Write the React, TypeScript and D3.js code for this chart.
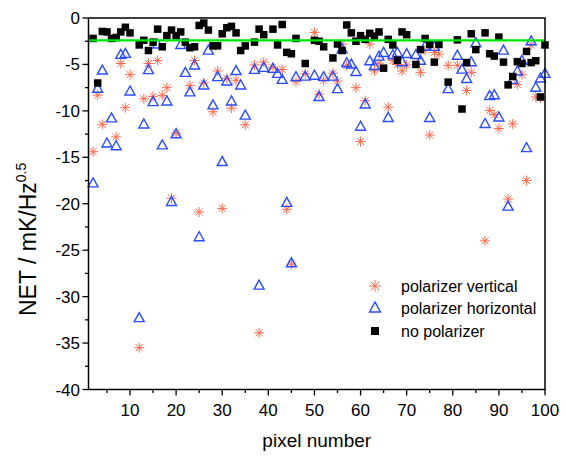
import React from "react";
import * as d3 from "d3";

const pixels: number[] = d3.range(1, 101);

const vertical: (number | null)[] = [
  null, -14.4, -8.3, -11.45, null, null, -12.8, -4.9, -9.66, -6.1,
  null, -35.5, -8.7, -4.9, -8.44, -4.57, -8.33, -7.5, -19.4, -12.4,
  null, null, -7.26, -4.57, -20.9, -7.0, null, -10.1, -5.7, -20.5,
  -6.5, -9.7, -6.7, null, -11.5, null, -5.05, -33.9, -4.75, null,
  -5.3, null, -5.55, -20.6, -26.5, -6.85, null, -6.0, null, -1.55,
  -8.2, -6.7, null, -5.95, -6.8, -2.8, -5.1, null, -7.5, -13.3,
  -8.9, -2.8, -5.7, -4.86, null, -9.6, -4.57, -5.0, -5.7, -5.05,
  null, null, -5.85, -3.5, -12.6, -3.7, -3.9, null, -5.1, null,
  -5.1, null, -7.8, -5.85, null, null, -24.0, -9.95, -10.4, -11.9,
  null, -19.5, -11.4, -7.15, -6.1, -17.5, -2.9, -8.5, -8.6, null,
];

const horizontal: (number | null)[] = [
  null, -17.8, -7.6, -5.65, -13.5, -10.8, -13.8, -3.96, -3.85, -7.9,
  null, -32.3, -11.45, -5.6, -9.05, -2.85, -13.7, -8.98, -19.8, -12.5,
  -2.9, -5.9, -8.0, -5.1, -23.6, -7.26, -3.5, -9.4, -6.36, -15.5,
  -6.83, -8.98, -5.7, -7.26, -10.5, null, -5.57, -28.8, -5.36, null,
  -5.47, -6.0, -6.65, -19.9, -26.4, -6.36, null, -6.3, null, -6.2,
  -8.5, -6.36, null, -6.3, -7.65, -3.35, -4.86, -5.0, -5.8, -11.7,
  -9.3, -4.65, -5.15, -4.15, -3.75, -10.75, -4.0, -3.75, -4.75, -3.87,
  null, -3.97, -4.6, -3.05, -10.75, -3.1, null, null, -7.65, null,
  -4.05, -5.55, -6.55, -4.75, -2.7, null, -11.4, -8.4, -8.3, -10.7,
  -3.5, -20.3, -6.65, -5.75, -4.6, -14.0, -2.5, -7.5, -6.5, -6.0,
];

const noPolarizer: (number | null)[] = [
  null, -2.2, -7.0, -1.45, -1.5, -2.2, -2.1, -1.5, -1.0, -1.6,
  null, -2.9, -2.4, -3.5, -2.6, -1.2, -3.1, -1.9, -1.3, -1.9,
  -1.5, -2.6, -3.2, -3.1, -0.8, -0.55, -1.3, -3.0, -3.0, -1.7,
  -1.05, -0.9, -1.6, -3.5, -3.0, null, -2.6, -1.2, -1.8, null,
  -1.2, -2.9, -0.7, -3.7, -3.85, -2.2, null, -4.9, null, -2.4,
  -2.5, -3.1, null, -4.3, -2.8, -3.5, -0.75, -1.6, -2.5, -1.9,
  -2.3, -1.65, -1.95, -1.5, -5.4, -2.3, -2.9, -4.55, -1.5, -1.8,
  null, -5.0, -3.4, -2.2, -2.85, -4.75, -2.85, null, -6.9, null,
  -2.35, -9.8, -4.8, -1.7, -3.4, null, -1.6, -3.85, -4.1, -2.06,
  -4.75, -7.2, -6.3, -4.7, -4.9, -3.6, -4.8, -4.6, -8.5, -2.9,
];

const meanLevel = -2.4;

const xTicks: number[] = [10, 20, 30, 40, 50, 60, 70, 80, 90, 100];
const xMinorTicks: number[] = [5, 15, 25, 35, 45, 55, 65, 75, 85, 95];
const yTicks: number[] = [0, -5, -10, -15, -20, -25, -30, -35, -40];
const yMinorTicks: number[] = [-2.5, -7.5, -12.5, -17.5, -22.5, -27.5, -32.5, -37.5];

const legendLabels: string[] = ["polarizer vertical", "polarizer horizontal", "no polarizer"];

const RED = "#ff5a3a";
const BLUE = "#2a4dff";
const FONT = "Liberation Sans, Arial, sans-serif";

function Star({ x, y, r }: { x: number; y: number; r: number }) {
  const d = r * 0.7071;
  return (
    <g stroke={RED} strokeWidth={1} opacity={0.9}>
      <line x1={x - r} y1={y} x2={x + r} y2={y} />
      <line x1={x} y1={y - r} x2={x} y2={y + r} />
      <line x1={x - d} y1={y - d} x2={x + d} y2={y + d} />
      <line x1={x - d} y1={y + d} x2={x + d} y2={y - d} />
    </g>
  );
}

function Tri({ x, y, s }: { x: number; y: number; s: number }) {
  const h = s * 0.9;
  const p = `${x},${y - h * 0.6} ${x - s / 2},${y + h * 0.4} ${x + s / 2},${y + h * 0.4}`;
  return <polygon points={p} fill="none" stroke={BLUE} strokeWidth={1.4} />;
}

function Sq({ x, y, s }: { x: number; y: number; s: number }) {
  return <rect x={x - s / 2} y={y - s / 2} width={s} height={s} fill="#000" />;
}

export default function App() {
  const W = 566;
  const H = 457;
  const x = d3.scaleLinear().domain([1, 100]).range([88.5, 545]);
  const y = d3.scaleLinear().domain([-40, 0]).range([389.5, 18]);
  const [x0, x1] = x.range();
  const [yb, yt] = y.range();

  return (
    <svg width={W} height={H} style={{ position: "absolute", left: 0, top: 0 }} fontFamily={FONT}>
      <rect width={W} height={H} fill="#fff" />
      <g>
        {pixels.map((p, i) =>
          vertical[i] == null ? null : <Star key={"v" + p} x={x(p)} y={y(vertical[i] as number)} r={5} />
        )}
      </g>
      <g>
        {pixels.map((p, i) =>
          horizontal[i] == null ? null : <Tri key={"h" + p} x={x(p)} y={y(horizontal[i] as number)} s={10} />
        )}
      </g>
      <g>
        {pixels.map((p, i) =>
          noPolarizer[i] == null ? null : <Sq key={"n" + p} x={x(p)} y={y(noPolarizer[i] as number)} s={7.5} />
        )}
      </g>
      <line x1={x0} x2={x1} y1={y(meanLevel)} y2={y(meanLevel)} stroke="#00e600" strokeWidth={2.2} />
      <rect x={x0} y={yt} width={x1 - x0} height={yb - yt} fill="none" stroke="#000" strokeWidth={1.5} />
      {xTicks.map((t) => (
        <g key={"xt" + t}>
          <line x1={x(t)} x2={x(t)} y1={yb} y2={yb + 6} stroke="#000" strokeWidth={1.3} />
          <text x={x(t)} y={416} textAnchor="middle" fontSize={17}>{t}</text>
        </g>
      ))}
      {xMinorTicks.map((t) => (
        <line key={"xm" + t} x1={x(t)} x2={x(t)} y1={yb} y2={yb + 3.5} stroke="#000" strokeWidth={1.3} />
      ))}
      {yTicks.map((t) => (
        <g key={"yt" + t}>
          <line x1={x0 - 6} x2={x0} y1={y(t)} y2={y(t)} stroke="#000" strokeWidth={1.3} />
          <text x={80} y={y(t) + 6} textAnchor="end" fontSize={17}>{t === 0 ? "0" : "-" + Math.abs(t)}</text>
        </g>
      ))}
      {yMinorTicks.map((t) => (
        <line key={"ym" + t} x1={x0 - 3.5} x2={x0} y1={y(t)} y2={y(t)} stroke="#000" strokeWidth={1.3} />
      ))}
      <text x={(x0 + x1) / 2} y={447} textAnchor="middle" fontSize={19}>pixel number</text>
      <text transform="translate(36,316) rotate(-90)" fontSize={23}>
        NET / mK/Hz<tspan dy={-10} fontSize={14}>0.5</tspan>
      </text>
      <g>
        <Star x={375} y={286} r={6} />
        <text x={401} y={292} fontSize={16}>{legendLabels[0]}</text>
        <Tri x={375} y={308} s={11} />
        <text x={401} y={314} fontSize={16}>{legendLabels[1]}</text>
        <Sq x={375} y={331} s={8} />
        <text x={401} y={337} fontSize={16}>{legendLabels[2]}</text>
      </g>
    </svg>
  );
}
